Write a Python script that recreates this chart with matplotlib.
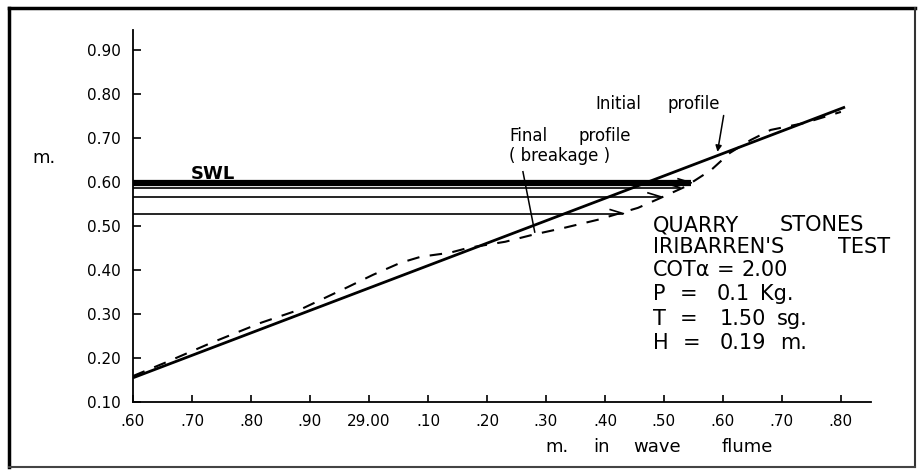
import matplotlib.pyplot as plt
from matplotlib.lines import Line2D

# axis ticks
x_ticks = [28.6, 28.7, 28.8, 28.9, 29.0, 29.1, 29.2, 29.3, 29.4, 29.5, 29.6, 29.7, 29.8]
x_tick_labels = [".60", ".70", ".80", ".90", "29.00", ".10", ".20", ".30", ".40", ".50", ".60", ".70", ".80"]
y_ticks = [0.1, 0.2, 0.3, 0.4, 0.5, 0.6, 0.7, 0.8, 0.9]
y_tick_labels = ["0.10", "0.20", "0.30", "0.40", "0.50", "0.60", "0.70", "0.80", "0.90"]

# initial profile (straight slope)
initial_x = [28.60, 29.807]
initial_y = [0.155, 0.770]

# final profile after breakage (dashed)
final_x = [28.600, 28.654, 28.732, 28.817, 28.885, 28.964, 29.007, 29.053, 29.088, 29.137,
           29.168, 29.231, 29.278, 29.329, 29.388, 29.456, 29.490, 29.536, 29.580, 29.612,
           29.647, 29.681, 29.739, 29.800]
final_y = [0.159, 0.189, 0.234, 0.280, 0.311, 0.361, 0.389, 0.416, 0.430, 0.439,
           0.450, 0.464, 0.480, 0.495, 0.514, 0.541, 0.561, 0.589, 0.627, 0.666,
           0.695, 0.718, 0.734, 0.759]

# still water levels and where they reach the slope
swl_levels = [0.598, 0.587, 0.566, 0.528]
swl_ends = [29.546, 29.527, 29.495, 29.431]
swl_widths = [4.5, 1.2, 1.2, 1.2]

# test conditions box, word by word (text, left pixel x, baseline pixel y)
info_words = [
    ("QUARRY", 653, 231), ("STONES", 780, 231),
    ("IRIBARREN'S", 653, 253), ("TEST", 838, 253),
    ("COT\u03b1", 653, 276), ("=", 717, 276), ("2.00", 741, 276),
    ("P", 653, 300), ("=", 680, 300), ("0.1", 717, 300), ("Kg.", 760, 300),
    ("T", 653, 325), ("=", 680, 325), ("1.50", 720, 325), ("sg.", 777, 325),
    ("H", 653, 349), ("=", 683, 349), ("0.19", 720, 349), ("m.", 780, 349),
]

plt.rcParams['font.family'] = ['DejaVu Sans']

W, H = 922, 470
fig = plt.figure(figsize=(W / 100, H / 100), dpi=100)
ax = fig.add_axes([133 / W, 68 / H, (871 - 133) / W, (402 - 30) / H])


def put(x, y, s, **kw):
    # place text by pixel position (left, baseline) of the reference image
    fig.text(x / W, 1 - y / H, s, va='baseline', ha='left', **kw)


ax.set_xlim(28.6, 29.851)
ax.set_ylim(0.1, 0.945)

ax.spines['top'].set_visible(False)
ax.spines['right'].set_visible(False)
ax.spines['left'].set_linewidth(1.3)
ax.spines['bottom'].set_linewidth(1.3)

ax.set_xticks(x_ticks)
ax.set_xticklabels(x_tick_labels)
ax.set_yticks(y_ticks)
ax.set_yticklabels(y_tick_labels)
ax.tick_params(axis='y', direction='in', length=6, width=1.2, pad=9, labelsize=11)
ax.tick_params(axis='x', direction='in', length=5, width=1.2, pad=9, labelsize=11)

# profiles
ax.plot(initial_x, initial_y, color='black', linewidth=2.0, solid_capstyle='butt')
ax.plot(final_x, final_y, color='black', linewidth=1.5, linestyle=(0, (6, 5)))

# SWL lines with half arrow heads
for level, end, lw in zip(swl_levels, swl_ends, swl_widths):
    ax.plot([28.6, end], [level, level], color='black', linewidth=lw, solid_capstyle='butt')
    ax.plot([end - 0.022, end], [level + 0.009, level], color='black', linewidth=1.2)

put(191, 179, "SWL", fontsize=13, fontweight='bold')

# annotations
put(509, 141, "Final", fontsize=12)
put(578, 141, "profile", fontsize=12)
put(509, 161, "( breakage )", fontsize=12)
ax.add_line(Line2D([29.261, 29.281], [0.623, 0.486], color='black', linewidth=1.1))

put(595, 109, "Initial", fontsize=12)
put(667, 109, "profile", fontsize=12)
ax.annotate("", xy=(29.590, 0.662), xytext=(29.602, 0.757),
            arrowprops=dict(arrowstyle='-|>', color='black', lw=1.1, mutation_scale=9))

for word, px, py in info_words:
    put(px, py, word, fontsize=15)

put(32, 163, "m.", fontsize=13)
put(545, 452, "m.", fontsize=13)
put(593, 452, "in", fontsize=13)
put(633, 452, "wave", fontsize=13)
put(722, 452, "flume", fontsize=13)

# outer frame
fig.add_artist(Line2D([9 / W, 915 / W], [1 - 8 / H, 1 - 8 / H], color='black', linewidth=2.5))
fig.add_artist(Line2D([9 / W, 9 / W], [1 - 8 / H, 1 - 467 / H], color='black', linewidth=2.5))
fig.add_artist(Line2D([915 / W, 915 / W], [1 - 8 / H, 1 - 467 / H], color='#333333', linewidth=1.5))
fig.add_artist(Line2D([9 / W, 915 / W], [1 - 467 / H, 1 - 467 / H], color='#444444', linewidth=1.5))

fig.savefig("out.png", dpi=100)
